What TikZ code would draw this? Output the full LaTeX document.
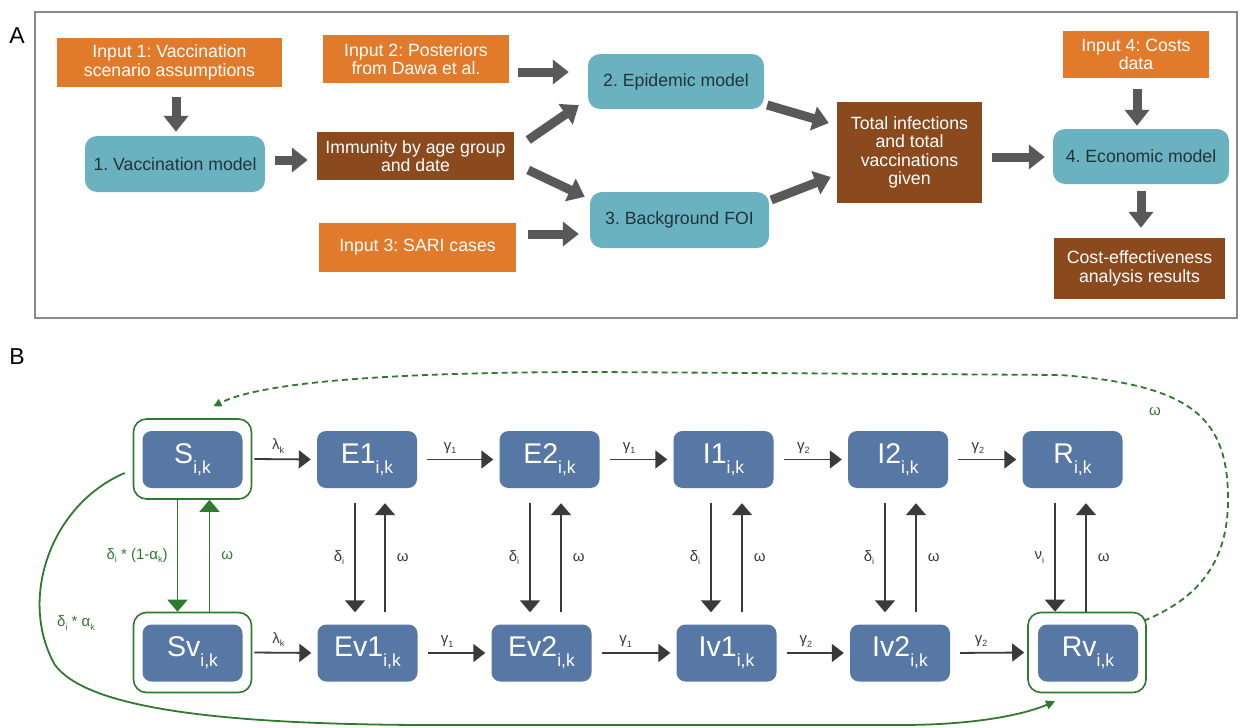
\documentclass[tikz,border=0pt]{standalone}
\usepackage{fontspec}
\setmainfont{Liberation Sans}
\usetikzlibrary{arrows.meta,calc}
\frenchspacing
\definecolor{cOrange}{HTML}{E27A2C}
\definecolor{cBrown}{HTML}{8B4A1E}
\definecolor{cTeal}{HTML}{6AB2C0}
\definecolor{cBlue}{HTML}{5778A4}
\definecolor{cGreen}{HTML}{2E7A2E}
\definecolor{cArr}{HTML}{595959}
\definecolor{cDark}{HTML}{3A3A3A}
\definecolor{cTxt}{HTML}{22343A}
\definecolor{cFrame}{HTML}{8A8A8A}
\newcommand{\cmpt}[1]{{\fontsize{28.5}{28}\selectfont #1}\raisebox{-10pt}{\fontsize{17.5}{17}\selectfont i,k}}
\newcommand{\lsub}[1]{\raisebox{-3.5pt}{\fontsize{9}{9}\selectfont #1}}
\begin{document}
\begin{tikzpicture}[x=1pt,y=-1pt,
  box/.style={inner sep=2pt, align=center, font=\fontsize{17.7}{18.3}\selectfont},
  inbox/.style={box, fill=cOrange, text=white},
  resbox/.style={box, fill=cBrown, text=white},
  modbox/.style={box, fill=cTeal, text=cTxt, rounded corners=12pt},
  blk/.style={draw=cArr, line width=9pt, -{Triangle[length=16pt,width=24pt]}},
  cnode/.style={fill=cBlue, text=white, rounded corners=9pt, minimum width=100pt, minimum height=57pt, inner sep=0pt},
  gframe/.style={draw=cGreen, line width=1.6pt, rounded corners=13pt, minimum width=118pt, minimum height=80pt},
  harr/.style={draw=cDark, line width=1.8pt, -{Triangle[length=12pt,width=18pt]}, shorten <=10pt, shorten >=6pt},
  varr/.style={draw=cDark, line width=1.8pt, -{Triangle[length=12pt,width=20pt]}},
  garr/.style={draw=cGreen, line width=1.8pt, -{Triangle[length=12pt,width=20pt]}},
  gdash/.style={draw=cGreen, line width=1.8pt, dash pattern=on 6pt off 4pt, -{Triangle[length=8pt,width=8pt]}},
  gcurve/.style={draw=cGreen, line width=1.8pt, -{Triangle[length=9pt,width=9pt]}},
  alab/.style={text=cDark, font=\fontsize{15}{15}\selectfont, inner sep=2pt},
  glab/.style={text=cGreen, font=\fontsize{15}{15}\selectfont, inner sep=2pt},
  panel/.style={font=\fontsize{23}{23}\selectfont, text=black, inner sep=0pt}
]
\useasboundingbox (0,0) rectangle (1240,728);
\fill[white] (0,0) rectangle (1240,728);

% ---------------- Panel A ----------------
\draw[cFrame, line width=1.5pt] (35,12) rectangle (1237,318);
\node[panel] (lA) at (17,36) {A};

\node[inbox, minimum width=225pt, minimum height=49pt] (in1) at (169.5,62.5) {Input 1: Vaccination\\scenario assumptions};
\node[modbox, minimum width=180pt, minimum height=56pt] (vacc) at (175,164) {1. Vaccination model};
\node[resbox, minimum width=197pt, minimum height=48pt] (imm) at (415.5,156) {Immunity by age group\\and date};
\node[inbox, minimum width=186pt, minimum height=48pt] (in2) at (416,59) {Input 2: Posteriors\\from Dawa et al.};
\node[inbox, minimum width=197pt, minimum height=49pt] (in3) at (417.5,247.5) {Input 3: SARI cases};
\node[modbox, minimum width=176pt, minimum height=55pt] (epi) at (676,81.5) {2. Epidemic model};
\node[modbox, minimum width=179pt, minimum height=56pt] (foi) at (679.5,220) {3. Background FOI};
\node[resbox, minimum width=145pt, minimum height=101pt] (tot) at (909.5,152.5) {Total infections\\and total\\vaccinations\\given};
\node[modbox, minimum width=176pt, minimum height=55pt] (eco) at (1141,156.5) {4. Economic model};
\node[inbox, minimum width=146pt, minimum height=47pt] (in4) at (1136,54.5) {Input 4: Costs\\data};
\node[resbox, minimum width=171pt, minimum height=61pt] (ce) at (1139.5,268.5) {Cost-effectiveness\\analysis results};

\draw[blk] ($(in1.south)+(6.5,10)$) -- ($(vacc.north)+(1,-4)$);
\draw[blk] ($(vacc.east)+(10,-4)$) -- ($(imm.west)+(-9,4)$);
\draw[blk] ($(in2.east)+(9,13)$) -- ($(epi.west)+(-19,-9.5)$);
\draw[blk] ($(imm.east)+(14,-16)$) -- ($(epi.south west)+(-9,-4)$);
\draw[blk] ($(imm.east)+(14,14)$) -- ($(foi.north west)+(-5,5)$);
\draw[blk] ($(in3.east)+(12,-13.5)$) -- ($(foi.west)+(-11,14)$);
\draw[blk] ($(epi.east)+(3,23.5)$) -- ($(tot.west)+(-8,-29.5)$);
\draw[blk] ($(foi.east)+(2,-20)$) -- ($(tot.west)+(-6,24.5)$);
\draw[blk] ($(tot.east)+(10,4.5)$) -- ($(eco.west)+(-8,0.5)$);
\draw[blk] ($(in4.south)+(1,11)$) -- ($(eco.north)+(-4,-3)$);
\draw[blk] ($(eco.south)+(0,7)$) -- ($(ce.north)+(1.5,-10)$);

% ---------------- Panel B ----------------
\node[panel] (lB) at (17,357) {B};

\node[gframe] (Sf) at (192.5,459) {};
\node[gframe] (Svf) at (192.5,652.5) {};
\node[gframe] (Rvf) at (1087,652.5) {};

\node[cnode] (S) at (192.5,459.5) {\cmpt{S}};
\node[cnode] (E1) at (367,459.5) {\cmpt{E1}};
\node[cnode] (E2) at (549.5,459.5) {\cmpt{E2}};
\node[cnode] (I1) at (723.5,459.5) {\cmpt{I1}};
\node[cnode] (I2) at (898,459.5) {\cmpt{I2}};
\node[cnode] (R) at (1072.5,459.5) {\cmpt{R}};
\node[cnode] (Sv) at (192.5,653) {\cmpt{Sv}};
\node[cnode] (Ev1) at (367.5,653) {\cmpt{Ev1}};
\node[cnode] (Ev2) at (541.5,653) {\cmpt{Ev2}};
\node[cnode] (Iv1) at (726.5,653) {\cmpt{Iv1}};
\node[cnode] (Iv2) at (900,653) {\cmpt{Iv2}};
\node[cnode] (Rv) at (1088,653) {\cmpt{Rv}};

% horizontal arrows
\draw[harr, shorten <=2pt] (Sf.east) -- (E1.west) node[pos=0.4, above=3pt, alab] {λ\lsub{k}};
\draw[harr] (E1.east) -- (E2.west) node[pos=0.4, above=3pt, alab] {γ\lsub{1}};
\draw[harr] (E2.east) -- (I1.west) node[pos=0.4, above=3pt, alab] {γ\lsub{1}};
\draw[harr] (I1.east) -- (I2.west) node[pos=0.4, above=3pt, alab] {γ\lsub{2}};
\draw[harr] (I2.east) -- (R.west) node[pos=0.4, above=3pt, alab] {γ\lsub{2}};
\draw[harr, shorten <=2pt] (Svf.east) -- (Ev1.west) node[pos=0.4, above=3pt, alab] {λ\lsub{k}};
\draw[harr] (Ev1.east) -- (Ev2.west) node[pos=0.4, above=3pt, alab] {γ\lsub{1}};
\draw[harr] (Ev2.east) -- (Iv1.west) node[pos=0.4, above=3pt, alab] {γ\lsub{1}};
\draw[harr] (Iv1.east) -- (Iv2.west) node[pos=0.4, above=3pt, alab] {γ\lsub{2}};
\draw[harr, shorten >=3pt] (Iv2.east) -- (Rvf.west) node[pos=0.4, above=3pt, alab] {γ\lsub{2}};

% vertical arrows
\draw[garr] ($(Sf.south)+(-15,0)$) -- ($(Sf.south|-Svf.north)+(-15,0)$) node[midway, left=7pt, glab] {δ\lsub{i} * (1-α\lsub{k})};
\draw[garr] ($(Sf.south|-Svf.north)+(17,0)$) -- ($(Sf.south)+(17,0)$) node[midway, right=9pt, glab] {ω};

\draw[varr] ($(E1.south)+(-12,15)$) -- ($(E1.south|-Ev1.north)+(-12,-12)$) node[midway, left=8pt, alab] {δ\lsub{i}};
\draw[varr] ($(E1.south|-Ev1.north)+(18,-12)$) -- ($(E1.south)+(18,15)$) node[midway, right=9pt, alab] {ω};
\draw[varr] ($(E2.south)+(-19.5,15)$) -- ($(E2.south|-Ev2.north)+(-19.5,-12)$) node[midway, left=8pt, alab] {δ\lsub{i}};
\draw[varr] ($(E2.south|-Ev2.north)+(11.5,-12)$) -- ($(E2.south)+(11.5,15)$) node[midway, right=9pt, alab] {ω};
\draw[varr] ($(I1.south)+(-12.5,15)$) -- ($(I1.south|-Iv1.north)+(-12.5,-12)$) node[midway, left=8pt, alab] {δ\lsub{i}};
\draw[varr] ($(I1.south|-Iv1.north)+(18.5,-12)$) -- ($(I1.south)+(18.5,15)$) node[midway, right=9pt, alab] {ω};
\draw[varr] ($(I2.south)+(-13,15)$) -- ($(I2.south|-Iv2.north)+(-13,-12)$) node[midway, left=8pt, alab] {δ\lsub{i}};
\draw[varr] ($(I2.south|-Iv2.north)+(18,-12)$) -- ($(I2.south)+(18,15)$) node[midway, right=9pt, alab] {ω};
\draw[varr] ($(R.south)+(-17.5,15)$) -- ($(R.south|-Rvf.north)+(-17.5,0)$) node[midway, left=8pt, alab] {ν\lsub{i}};
\draw[varr] ($(R.south|-Rvf.north)+(13.5,0)$) -- ($(R.south)+(13.5,15)$) node[midway, right=9pt, alab] {ω};

% green dashed waning loop
\draw[gdash] ($(Rvf.north east)+(-3,9)$) .. controls (1195,600) and (1228,565) .. (1228,500)
  .. controls (1228,420) and (1195,385) .. (1060,375) -- (600,372)
  .. controls (380,372) and (260,383) .. ($(Sf.north)+(21,-12)$);
\node[glab] (wlab) at (1155,412) {ω};

% green solid curve
\draw[gcurve] ($(Sf.west)+(-8,14)$) .. controls (50,505) and (18,600) .. (55,665)
  .. controls (85,705) and (200,724) .. (420,725) -- (900,725)
  .. controls (985,725) and (1030,712) .. ($(Rvf.south)+(-32,8)$);
\node[glab] (dalab) at (76,623) {δ\lsub{i} * α\lsub{k}};
\end{tikzpicture}
\end{document}
